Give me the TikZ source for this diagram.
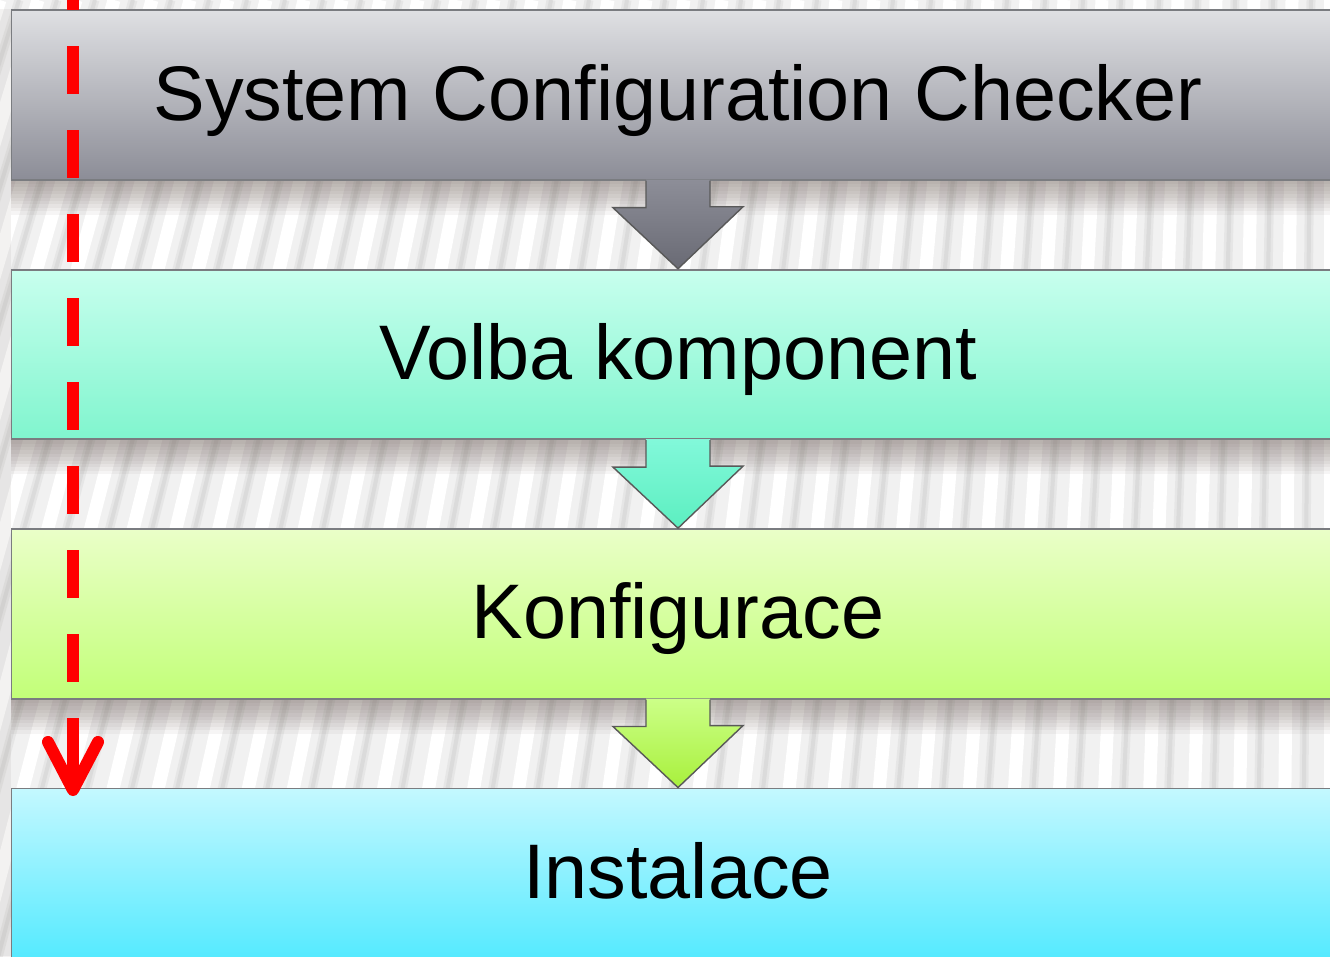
\documentclass[tikz,border=0pt]{standalone}
\usepackage{fontspec}
\setmainfont{Liberation Sans}
\usepackage{xcolor}
\usetikzlibrary{positioning,calc,arrows.meta}

\definecolor{grayA}{HTML}{DFE0E3}
\definecolor{grayB}{HTML}{8C8D97}
\definecolor{mintA}{HTML}{C8FFEE}
\definecolor{mintB}{HTML}{80F5CE}
\definecolor{limeA}{HTML}{EAFFC8}
\definecolor{limeB}{HTML}{C2FF78}
\definecolor{skyA}{HTML}{C4F8FF}
\definecolor{skyB}{HTML}{55EAFF}
\definecolor{arrGrayA}{HTML}{8D8E98}
\definecolor{arrGrayB}{HTML}{696A74}
\definecolor{arrMintA}{HTML}{82F8DA}
\definecolor{arrMintB}{HTML}{5CEFC0}
\definecolor{arrLimeA}{HTML}{CCFF88}
\definecolor{arrLimeB}{HTML}{A8F03C}
\definecolor{stageLine}{HTML}{7A7C80}
\definecolor{flowRed}{HTML}{FF0000}
\definecolor{wallGray}{HTML}{F1F1F1}
\definecolor{ribGray}{HTML}{D4D4D4}
\definecolor{shadeBrown}{HTML}{6E5F58}

\begin{document}
\begin{tikzpicture}[
    x=0.01cm, y=-0.01cm,
    node distance=0.88cm,
    box/.style 2 args={
        rectangle,
        draw=stageLine,
        line width=0.5pt,
        top color=#1,
        bottom color=#2,
        minimum width=13.32cm,
        minimum height=1.695cm,
        inner sep=0pt,
        text height=0.5cm,
        text depth=0pt,
        font=\fontsize{22}{26}\selectfont
    },
    checkstage/.style={box={grayA}{grayB}},
    pickstage/.style={box={mintA}{mintB}},
    confstage/.style={box={limeA}{limeB}},
    inststage/.style={box={skyA}{skyB}},
    rib/.style={line width=#1},
    redflow/.style={draw=flowRed, line width=0.12cm}
]

\path[use as bounding box, clip] (0,0) rectangle (1330,956);

% Ribbed wall behind the stages
\fill[wallGray] (0,0) rectangle (1330,956);
\foreach \s [evaluate=\s as \d using {300*(1-\s/1330)}] in {0,38,...,1368} {
    \draw[white, rib=0.13cm] (\s,0) -- ++(-\d,956);
    \draw[ribGray, rib=0.09cm, opacity=0.35] (\s+19,0) -- ++(-\d,956);
    \draw[ribGray, rib=0.04cm, opacity=0.6] (\s+19,0) -- ++(-\d,956);
}

% Stages
\node[checkstage] (sys) at (678,95) {System Configuration Checker};
\node[pickstage, below=of sys] (vol) {Volba komponent};
\node[confstage, below=of vol] (konf) {Konfigurace};
\node[inststage, below=of konf] (inst) {Instalace};

% Soft shadows under the stages
\foreach \n in {sys,vol,konf} {
    \foreach \k in {1,...,10} {
        \fill[shadeBrown, opacity=0.06] (\n.south west) rectangle ($(\n.south east)+(0,3.4*\k)$);
    }
}
\fill[shadeBrown, opacity=0.08] ($(sys.north west)+(-12,0)$) rectangle (inst.south west);

% Block arrows between stages
\foreach \a/\b/\c in {sys/vol/arrGray, vol/konf/arrMint, konf/inst/arrLime} {
    \fill[shadeBrown, opacity=0.2, xshift=0.05cm, yshift=-0.05cm]
        ($(\a.south)+(-32,1)$) -- ++(0,27) -- ++(-33,0) -- (\b.north)
        -- ++(65,-62) -- ++(-33,0) -- ($(\a.south)+(32,1)$) -- cycle;
    \shade[top color=\c A, bottom color=\c B]
        ($(\a.south)+(-32,-1)$) -- ++(0,28) -- ++(-33,0) -- (\b.north)
        -- ++(65,-62) -- ++(-33,0) -- ($(\a.south)+(32,-1)$) -- cycle;
    \draw[black!65, line width=0.4pt]
        ($(\a.south)+(-32,0)$) -- ++(0,27) -- ++(-33,0) -- (\b.north)
        -- ++(65,-62) -- ++(-33,0) -- ($(\a.south)+(32,0)$);
}

% Red dashed progress line
\coordinate (flowtop) at (73,-38);
\coordinate (flowmid) at (73,718);
\coordinate (flowend) at (73,796);
\draw[redflow, dash pattern=on 0.48cm off 0.36cm] (flowtop) -- (flowmid);
\draw[redflow, -{Straight Barb[length=0.48cm, width=0.5cm, round]}] (flowmid) -- (flowend);

\end{tikzpicture}
\end{document}
